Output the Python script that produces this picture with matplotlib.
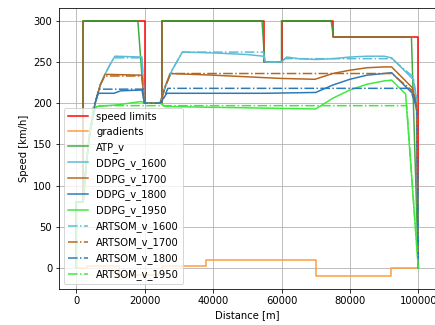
import matplotlib
matplotlib.use("Agg")
import matplotlib.pyplot as plt

# speed limit and gradient profiles (step functions)
limit_x = [0, 2000, 20000, 25000, 55000, 60000, 75000, 100000]
limit_v = [80, 300, 200, 300, 250, 300, 280, 0]

grad_x = [0, 3000, 12500, 25000, 38000, 70000, 92000, 100000]
grad_v = [0, 3, -8, 3, 10, -10, 0, 0]

atp_x = [0, 2000, 2000, 18000, 19800, 25000, 25000, 54300, 55100, 60000, 60000,
         74500, 75200, 98000, 100000]
atp_v = [80, 80, 300, 300, 200, 200, 300, 300, 250, 250, 300,
         300, 280, 280, 0]

ddpg_1600_x = [0, 0, 2000, 3000, 4000, 5500, 7000, 8500, 10000, 11300, 19200, 19900,
               24500, 26000, 28000, 31000, 40000, 50000, 54700, 55300, 60000, 61500,
               65000, 70000, 75000, 80000, 85000, 90000, 92200, 98500, 99500, 100000]
ddpg_1600_v = [0, 80, 80, 130, 165, 200, 222, 236, 248, 257, 256, 200,
               200, 220, 240, 262, 261, 259, 257, 250, 250, 256,
               254, 253, 254, 256, 257, 257, 255, 229, 205, 0]

ddpg_1700_x = [0, 0, 2000, 3000, 4000, 5500, 7000, 8400, 19200, 19900, 24500, 26000,
               27400, 40000, 50000, 60000, 69800, 75000, 80000, 85000, 90000, 92200,
               98200, 99500, 100000]
ddpg_1700_v = [0, 80, 80, 130, 165, 200, 222, 235, 234, 200, 200, 220,
               236, 234, 232, 230, 229, 236, 240, 243, 244, 244,
               219, 200, 0]

ddpg_1800_x = [0, 0, 2000, 3000, 4000, 5500, 6400, 11000, 13000, 19200, 19900, 24500,
               25500, 26500, 40000, 55000, 70000, 75000, 80000, 85000, 90000, 92200,
               98500, 99600, 100000]
ddpg_1800_v = [0, 80, 80, 130, 165, 200, 212, 212, 215, 216, 200, 200,
               206, 212, 212, 212, 213, 222, 229, 234, 236, 237,
               211, 190, 0]

ddpg_1950_x = [0, 0, 2000, 3000, 4000, 5500, 6000, 12000, 19000, 19900, 24500, 26000,
               40000, 55000, 70000, 75000, 80000, 85000, 90000, 92200, 96300, 100000]
ddpg_1950_v = [0, 80, 80, 130, 165, 193, 196, 198, 202, 200, 200, 196,
               195, 194, 193, 206, 216, 223, 227, 228, 211, 0]

artsom_1600_x = [0, 0, 2000, 3000, 4000, 5500, 7000, 8500, 10000, 11000, 19200, 19900,
                 24500, 26000, 28000, 31000, 54700, 55300, 60000, 61000, 92200, 98500,
                 99500, 100000]
artsom_1600_v = [0, 80, 80, 130, 165, 200, 222, 236, 248, 255, 255, 200,
                 200, 220, 240, 262, 262, 250, 250, 254, 254, 232,
                 205, 0]

artsom_1700_x = [0, 0, 2000, 3000, 4000, 5500, 7000, 8300, 19200, 19900, 24500, 26000,
                 27600, 92200, 98300, 99500, 100000]
artsom_1700_v = [0, 80, 80, 130, 165, 200, 222, 233, 233, 200, 200, 220,
                 236, 236, 215, 198, 0]

artsom_1800_x = [0, 0, 2000, 3000, 4000, 5500, 6700, 19300, 19900, 24500, 25500, 26800,
                 97500, 99600, 100000]
artsom_1800_v = [0, 80, 80, 130, 165, 200, 217, 217, 200, 200, 206, 218,
                 218, 195, 0]

artsom_1950_x = [0, 0, 2000, 3000, 4000, 5000, 96600, 100000]
artsom_1950_v = [0, 80, 80, 130, 165, 197, 197, 0]

c1600 = "#5bbcd6"
c1700 = "#b5651d"
c1800 = "#2a7ab8"
c1950 = "#3ee83e"

fig = plt.figure(figsize=(435 / 72, 325 / 72), dpi=72)
ax = fig.add_axes([59.2 / 435, 36 / 325, 376.2 / 435, 281 / 325])

ax.step(limit_x, limit_v, where="post", color="#ff0000", label="speed limits")
ax.step(grad_x, grad_v, where="post", color="#ff9a3c", label="gradients")
ax.plot(atp_x, atp_v, color="#2ca02c", alpha=0.9, label="ATP_v")

ax.plot(ddpg_1600_x, ddpg_1600_v, color=c1600, label="DDPG_v_1600")
ax.plot(ddpg_1700_x, ddpg_1700_v, color=c1700, label="DDPG_v_1700")
ax.plot(ddpg_1800_x, ddpg_1800_v, color=c1800, label="DDPG_v_1800")
ax.plot(ddpg_1950_x, ddpg_1950_v, color=c1950, label="DDPG_v_1950")

ax.plot(artsom_1600_x, artsom_1600_v, "-.", color=c1600, label="ARTSOM_v_1600")
ax.plot(artsom_1700_x, artsom_1700_v, "-.", color=c1700, label="ARTSOM_v_1700")
ax.plot(artsom_1800_x, artsom_1800_v, "-.", color=c1800, label="ARTSOM_v_1800")
ax.plot(artsom_1950_x, artsom_1950_v, "-.", color=c1950, label="ARTSOM_v_1950")

ax.set_xlabel("Distance [m]")
ax.set_ylabel("Speed [km/h]")
ax.grid(True)
ax.legend(loc="lower left")

fig.savefig("out.png", dpi=72)
